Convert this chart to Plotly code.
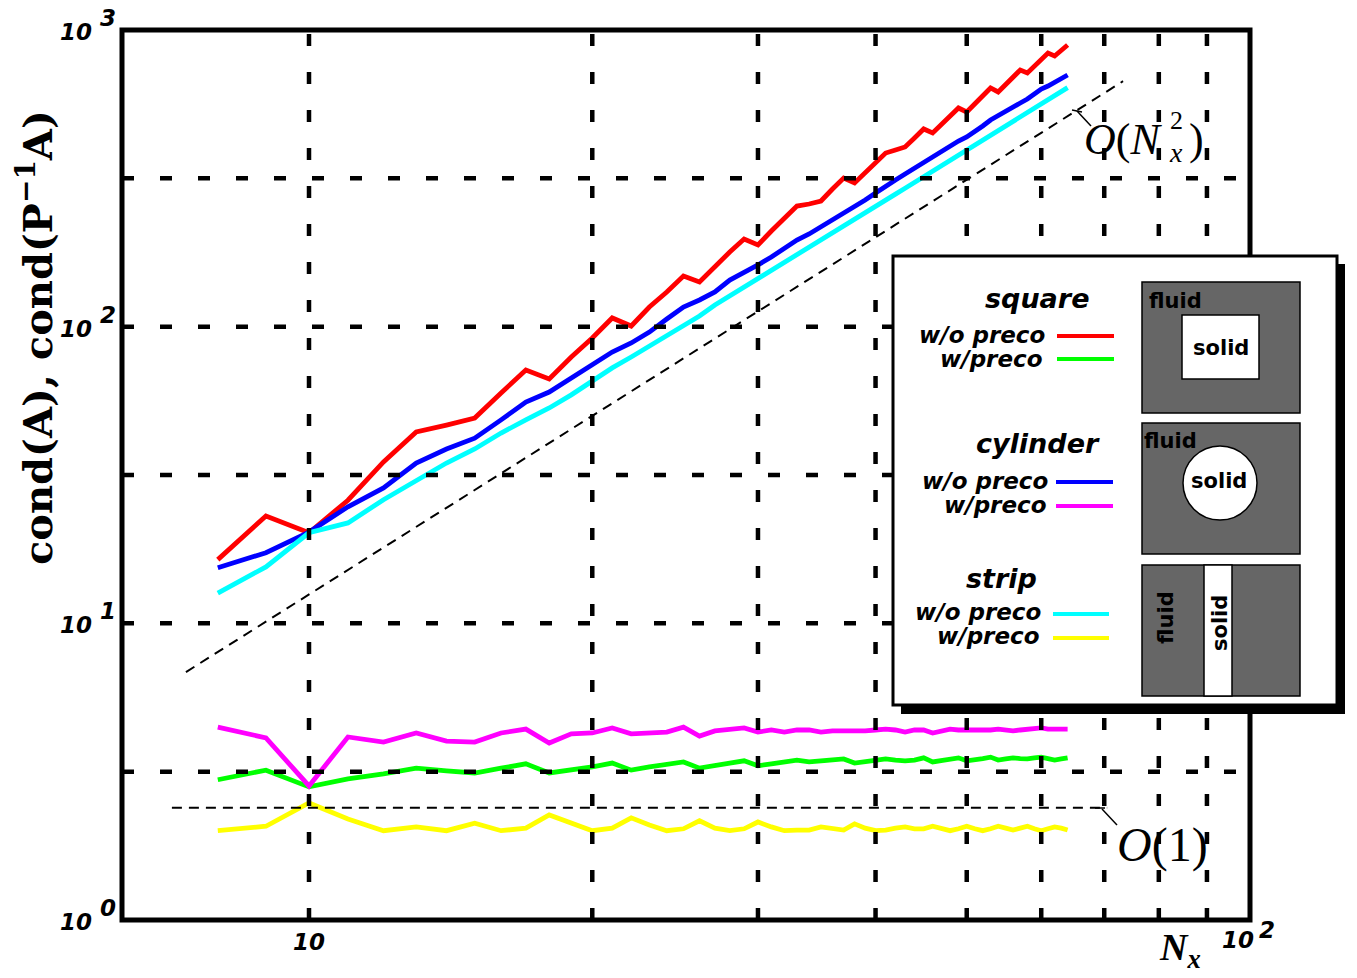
import plotly.graph_objects as go

# Grid size N_x
N = list(range(8, 65))

# Condition numbers, square obstacle
square_wo = [16.4, 23.0, 20.2, 26.0, 35.0, 44.2, 46.6, 49.2, 59.8, 71.4, 66.6, 79.0, 91.6, 107.0,
             100.5, 116.5, 130.9, 148.2, 141.4, 160.1, 178.5, 197.5, 188.5, 210.1, 232.4, 255.1,
             259.1, 265.2, 291.1, 317.0, 305.0, 329.6, 356.1, 384.9, 394.0, 403.3, 432.4, 463.9,
             449.7, 478.5, 513.2, 546.0, 529.3, 563.0, 599.2, 637.6, 618.1, 657.6, 694.3, 733.2,
             716.1, 756.3, 792.3, 836.5, 817.3, 856.2, 890.1]
square_w = [2.97, 3.20, 2.81, 2.99, 3.11, 3.25, 3.18, 3.13, 3.25, 3.36, 3.13, 3.20, 3.28, 3.38,
            3.20, 3.28, 3.36, 3.41, 3.25, 3.33, 3.38, 3.44, 3.31, 3.36, 3.41, 3.46, 3.41, 3.44,
            3.46, 3.49, 3.38, 3.41, 3.46, 3.49, 3.46, 3.44, 3.46, 3.52, 3.41, 3.44, 3.46, 3.52,
            3.44, 3.46, 3.50, 3.54, 3.46, 3.49, 3.52, 3.50, 3.49, 3.52, 3.54, 3.50, 3.46, 3.49, 3.52]

# Condition numbers, cylinder obstacle
cylinder_wo = [15.4, 17.3, 20.3, 24.7, 28.6, 34.7, 38.7, 42.1, 48.5, 55.7, 60.2, 67.1, 74.3, 82.1,
               88.1, 95.9, 106.1, 116.5, 123.0, 130.9, 143.6, 151.7, 161.4, 171.8, 184.1, 195.9,
               205.3, 216.7, 228.8, 241.6, 253.1, 267.3, 282.2, 298.0, 312.2, 327.0, 342.6, 358.9,
               373.2, 387.9, 406.4, 422.5, 435.9, 453.2, 474.8, 497.4, 513.2, 533.4, 550.2, 567.5,
               585.5, 608.7, 632.6, 647.5, 667.9, 683.6, 705.3]
cylinder_w = [4.47, 4.11, 2.83, 4.14, 3.98, 4.27, 4.01, 3.98, 4.27, 4.40, 3.95, 4.24, 4.27, 4.44,
              4.24, 4.27, 4.30, 4.47, 4.17, 4.34, 4.37, 4.44, 4.30, 4.37, 4.30, 4.37, 4.37, 4.30,
              4.34, 4.34, 4.30, 4.34, 4.37, 4.40, 4.37, 4.30, 4.37, 4.37, 4.27, 4.34, 4.40, 4.37,
              4.37, 4.34, 4.34, 4.37, 4.40, 4.37, 4.34, 4.37, 4.40, 4.40, 4.44, 4.40, 4.40, 4.40, 4.40]

# Condition numbers, strip obstacle
strip_wo = [12.65, 15.5, 20.2, 21.8, 26.1, 30.4, 34.7, 38.7, 43.8, 48.5, 53.2, 58.9, 65.6, 72.6,
            79.0, 86.1, 93.0, 100.5, 108.6, 118.3, 126.9, 136.0, 145.9, 155.2, 163.9, 174.4,
            184.1, 195.9, 206.9, 218.4, 229.9, 241.6, 254.1, 266.7, 279.8, 292.9, 306.4, 320.3,
            334.5, 348.8, 363.5, 378.8, 393.9, 409.5, 425.6, 441.6, 457.7, 475.1, 491.9, 508.6,
            526.3, 544.2, 562.6, 582.1, 601.0, 619.4, 639.5]
strip_w = [2.00, 2.07, 2.48, 2.19, 2.00, 2.06, 2.00, 2.12, 2.00, 2.04, 2.26, 2.12, 2.00, 2.04,
           2.21, 2.09, 2.00, 2.03, 2.16, 2.04, 2.00, 2.03, 2.14, 2.06, 2.00, 2.01, 2.01, 2.06,
           2.03, 2.01, 2.11, 2.04, 2.00, 2.01, 2.04, 2.06, 2.03, 2.03, 2.07, 2.03, 2.00, 2.03,
           2.07, 2.03, 2.00, 2.03, 2.07, 2.04, 2.01, 2.04, 2.07, 2.03, 2.00, 2.03, 2.06, 2.04, 2.01]

# Guide lines O(N_x^2) and O(1)
quad_x = [7.4, 73.3]
quad_y = [6.85, 672.0]
const_x = [7.15, 70.5]
const_y = [2.39, 2.39]

# Axis decades and grid positions
y_exponents = [0, 1, 2, 3]
grid_x = [10, 20, 30, 40, 50, 60, 70, 80, 90]
grid_y = [3.162, 10.0, 31.62, 100.0, 316.2]
x_min_log = 0.80128

W, H = 1357, 978
L, R, T, B = 122, 1250, 30, 920


def fx(px):
    return (px - L) / (R - L)


def fy(py):
    return (B - py) / (B - T)


fig = go.Figure()

series = [
    (square_wo, "#ff0000"),
    (square_w, "#00ff00"),
    (cylinder_wo, "#0000ff"),
    (cylinder_w, "#ff00ff"),
    (strip_wo, "#00ffff"),
    (strip_w, "#ffff00"),
]
for vals, col in series:
    fig.add_trace(go.Scatter(x=N, y=vals, mode="lines",
                             line=dict(color=col, width=4.8), showlegend=False,
                             hoverinfo="skip"))

for gx, gy in ((quad_x, quad_y), (const_x, const_y)):
    fig.add_trace(go.Scatter(x=gx, y=gy, mode="lines",
                             line=dict(color="black", width=2, dash="10px,7px"),
                             showlegend=False, hoverinfo="skip"))

# dashed grid drawn over the curves
gxs, gys = [], []
for g in grid_x:
    gxs += [g, g, None]
    gys += [1, 1000, None]
for g in grid_y:
    gxs += [10 ** x_min_log, 100, None]
    gys += [g, g, None]
fig.add_trace(go.Scatter(x=gxs, y=gys, mode="lines",
                         line=dict(color="black", width=4.5, dash="12px,26px"),
                         showlegend=False, hoverinfo="skip"))

shapes = []
# plot frame
shapes.append(dict(type="rect", xref="paper", yref="paper", x0=0, x1=1, y0=0, y1=1,
                   line=dict(color="black", width=5), layer="above"))


def rect(x0, y0, x1, y1, fill, lw=0, lc="black"):
    return dict(type="rect", xref="paper", yref="paper",
                x0=fx(x0), x1=fx(x1), y0=fy(y1), y1=fy(y0),
                fillcolor=fill, line=dict(color=lc, width=lw), layer="above")


def seg(x0, y0, x1, y1, col, lw):
    return dict(type="line", xref="paper", yref="paper",
                x0=fx(x0), x1=fx(x1), y0=fy(y0), y1=fy(y1),
                line=dict(color=col, width=lw), layer="above")


# leader lines for the guide labels
shapes += [seg(1072, 110, 1082, 112, "black", 1.5), seg(1077, 111, 1091, 126, "black", 1.5),
           seg(1095, 808, 1105, 808, "black", 1.5), seg(1102, 809, 1117, 825, "black", 1.5)]

# legend panel with drop shadow
shapes.append(rect(901, 264, 1345, 714, "black"))
shapes.append(rect(893, 256, 1337, 705, "white", 3))

# legend line samples
shapes += [
    seg(1057, 336, 1114, 336, "#ff0000", 4), seg(1057, 359, 1114, 359, "#00ff00", 4),
    seg(1056, 482, 1113, 482, "#0000ff", 4), seg(1056, 506, 1113, 506, "#ff00ff", 4),
    seg(1053, 614, 1109, 614, "#00ffff", 4), seg(1053, 638, 1109, 638, "#ffff00", 4),
]

# geometry sketches
GRAY = "#666666"
shapes.append(rect(1142, 282, 1300, 413, GRAY, 1.5))
shapes.append(rect(1182, 315, 1259, 379, "white", 1.5))
shapes.append(rect(1142, 423, 1300, 554, GRAY, 1.5))
shapes.append(dict(type="circle", xref="paper", yref="paper",
                   x0=fx(1183), x1=fx(1257), y0=fy(520), y1=fy(446),
                   fillcolor="white", line=dict(color="black", width=1.5), layer="above"))
shapes.append(rect(1142, 565, 1300, 696, GRAY, 1.5))
shapes.append(rect(1204, 565, 1232, 696, "white", 1.5))

ann = []
TICKF = dict(family="DejaVu Sans", size=23, color="black", weight="bold", style="italic")
for e in y_exponents:
    ann.append(dict(text="10", xref="paper", yref="y", x=fx(76), y=e, yshift=-2,
                    showarrow=False, font=TICKF, xanchor="center", yanchor="middle"))
    ann.append(dict(text=str(e), xref="paper", yref="y", x=fx(108), y=e, yshift=12,
                    showarrow=False, font=TICKF, xanchor="center", yanchor="middle"))
ann.append(dict(text="10", xref="x", yref="paper", x=1, y=fy(942), showarrow=False,
                font=TICKF, xanchor="center", yanchor="middle"))
ann.append(dict(text="10", xref="paper", yref="paper", x=fx(1238), y=fy(940), showarrow=False,
                font=TICKF, xanchor="center", yanchor="middle"))
ann.append(dict(text="2", xref="paper", yref="paper", x=fx(1267), y=fy(930), showarrow=False,
                font=TICKF, xanchor="center", yanchor="middle"))

# axis titles
ann.append(dict(text="<b>cond(A), cond(P<sup>−1</sup>A)</b>", xref="paper", yref="paper",
                x=fx(35), y=fy(338), textangle=-90, showarrow=False,
                font=dict(family="DejaVu Serif", size=40, color="black"),
                xanchor="center", yanchor="middle"))
SERIF = "Liberation Serif"
ann.append(dict(text="<b><i>N</i></b><sub><b><i>x</i></b></sub>", xref="paper", yref="paper",
                x=fx(1180), y=fy(950), showarrow=False,
                font=dict(family=SERIF, size=38, color="black"),
                xanchor="center", yanchor="middle"))

# guide labels
ann.append(dict(text="<i>O</i>(<i>N</i>", xref="paper", yref="paper", x=fx(1164), y=fy(140),
                showarrow=False, font=dict(family=SERIF, size=44, color="black"),
                xanchor="right", yanchor="middle"))
ann.append(dict(text="2", xref="paper", yref="paper", x=fx(1176), y=fy(121),
                showarrow=False, font=dict(family=SERIF, size=26, color="black"),
                xanchor="center", yanchor="middle"))
ann.append(dict(text="<i>x</i>", xref="paper", yref="paper", x=fx(1176), y=fy(152),
                showarrow=False, font=dict(family=SERIF, size=28, color="black"),
                xanchor="center", yanchor="middle"))
ann.append(dict(text=")", xref="paper", yref="paper", x=fx(1187), y=fy(140),
                showarrow=False, font=dict(family=SERIF, size=44, color="black"),
                xanchor="left", yanchor="middle"))
ann.append(dict(text="<i>O</i>(1)", xref="paper", yref="paper", x=fx(1162), y=fy(845),
                showarrow=False, font=dict(family=SERIF, size=48, color="black"),
                xanchor="center", yanchor="middle"))

# legend labels
HEAD = dict(family="DejaVu Sans", size=27, color="black", weight="bold", style="italic")
ITEM = dict(family="DejaVu Sans", size=23, color="black", weight="bold", style="italic")
legend_rows = [
    ("square", 1037, 298, [("w/o preco", 1047, 335), ("w/preco", 1045, 359)]),
    ("cylinder", 1038, 443, [("w/o preco", 1050, 481), ("w/preco", 1049, 505)]),
    ("strip", 1001, 578, [("w/o preco", 1043, 612), ("w/preco", 1042, 636)]),
]
for head, hx, hy, items in legend_rows:
    ann.append(dict(text=head, xref="paper", yref="paper", x=fx(hx), y=fy(hy),
                    showarrow=False, font=HEAD, xanchor="center", yanchor="middle"))
    for txt, rx, ry in items:
        ann.append(dict(text=txt, xref="paper", yref="paper", x=fx(rx), y=fy(ry),
                        showarrow=False, font=ITEM, xanchor="right", yanchor="middle"))

SK = dict(family="DejaVu Sans", size=21, color="black", weight="bold")
for txt, cx, cy, ang in [("fluid", 1175, 301, 0), ("solid", 1221, 348, 0),
                         ("fluid", 1170, 441, 0), ("solid", 1219, 481, 0),
                         ("fluid", 1166, 618, -90), ("solid", 1220, 623, -90)]:
    ann.append(dict(text=txt, xref="paper", yref="paper", x=fx(cx), y=fy(cy),
                    textangle=ang, showarrow=False, font=SK,
                    xanchor="center", yanchor="middle"))

fig.update_layout(
    width=W, height=H,
    margin=dict(l=L, r=W - R, t=T, b=H - B),
    paper_bgcolor="white", plot_bgcolor="white",
    shapes=shapes, annotations=ann, showlegend=False,
)
fig.update_xaxes(type="log", range=[x_min_log, 2], showgrid=False, showticklabels=False,
                 ticks="", zeroline=False, showline=False)
fig.update_yaxes(type="log", range=[0, 3], showgrid=False, showticklabels=False,
                 ticks="", zeroline=False, showline=False)

fig.write_html("out.html")
